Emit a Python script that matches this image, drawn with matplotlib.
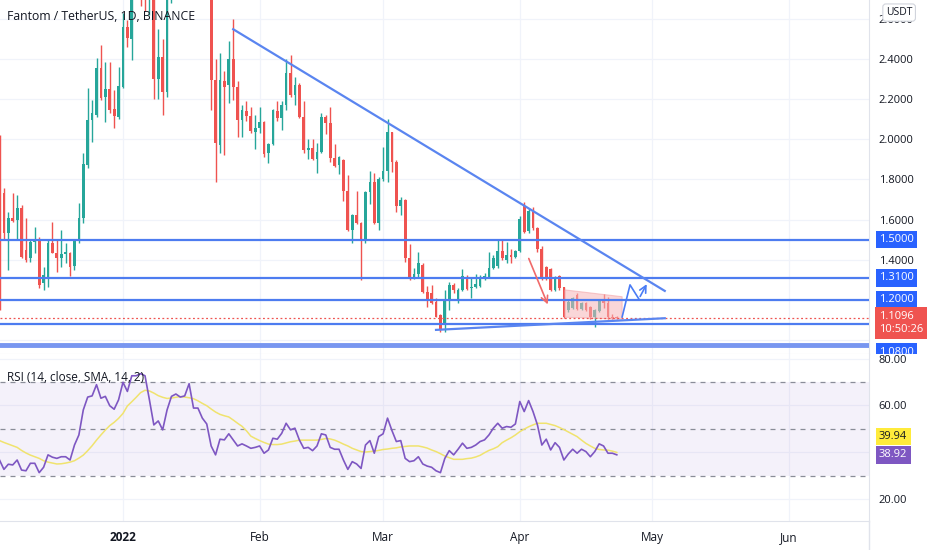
import numpy as np
import pandas as pd
import matplotlib
matplotlib.use("Agg")
import matplotlib.pyplot as plt
import matplotlib.dates as mdates
from matplotlib.lines import Line2D
from matplotlib.patches import Polygon
from matplotlib.transforms import Bbox

plt.rcParams['font.family'] = ['Open Sans', 'DejaVu Sans']

# FTM/USDT daily candles, 2021-12-04 .. 2022-04-23
opens = [2.006, 1.732, 1.533, 1.608, 1.60, 1.657, 1.45, 1.41, 1.49, 1.498,
         1.285, 1.314, 1.483, 1.433, 1.409, 1.428, 1.433, 1.37, 1.498, 1.608,
         1.871, 2.096, 2.12, 2.354, 2.21, 2.25, 2.15, 2.11, 2.26, 2.56,
         2.50, 2.75, 2.90, 2.85, 2.70, 2.78, 2.30, 2.41, 2.235, 2.78,
         2.95, 3.05, 2.98, 3.20, 3.30, 3.15, 3.10, 2.98, 3.02, 2.294,
         1.97, 2.29, 2.27, 2.40, 2.26, 2.095, 2.14, 2.115, 2.035, 2.055,
         2.085, 1.93, 1.975, 2.14, 2.105, 2.17, 2.33, 2.22, 2.27, 2.11,
         1.946, 1.955, 1.90, 1.935, 2.11, 2.08, 1.905, 1.87, 1.895, 1.74,
         1.55, 1.625, 1.585, 1.50, 1.735, 1.785, 1.585, 1.80, 1.84, 2.035,
         1.885, 1.665, 1.695, 1.41, 1.31, 1.33, 1.374, 1.241, 1.235, 1.192,
         1.125, 1.084, 1.204, 1.275, 1.197, 1.25, 1.316, 1.258, 1.263, 1.27,
         1.308, 1.316, 1.36, 1.37, 1.445, 1.40, 1.425, 1.413, 1.442, 1.665,
         1.545, 1.639, 1.557, 1.455, 1.363, 1.353, 1.25, 1.319, 1.263, 1.15,
         1.159, 1.225, 1.154, 1.183, 1.167, 1.114, 1.147, 1.195, 1.183, 1.117,
         1.115]
highs = [2.02, 1.757, 1.638, 1.73, 1.72, 1.673, 1.61, 1.50, 1.563, 1.513,
         1.364, 1.498, 1.588, 1.498, 1.548, 1.483, 1.44, 1.498, 1.683, 1.93,
         2.255, 2.195, 2.404, 2.469, 2.384, 2.384, 2.245, 2.359, 2.628, 2.593,
         2.85, 2.95, 3.00, 2.88, 2.82, 2.80, 2.548, 2.50, 2.85, 3.00,
         3.12, 3.10, 3.25, 3.42, 3.35, 3.25, 3.18, 3.08, 3.05, 2.40,
         2.43, 2.34, 2.49, 2.60, 2.29, 2.17, 2.19, 2.16, 2.12, 2.16,
         2.09, 1.98, 2.15, 2.19, 2.19, 2.40, 2.42, 2.31, 2.28, 2.19,
         2.00, 2.00, 1.98, 2.13, 2.12, 2.16, 1.975, 1.915, 1.90, 1.82,
         1.63, 1.74, 1.59, 1.74, 1.84, 1.83, 1.81, 1.96, 2.10, 2.035,
         1.895, 1.71, 1.70, 1.48, 1.36, 1.44, 1.383, 1.269, 1.275, 1.208,
         1.13, 1.25, 1.287, 1.283, 1.258, 1.353, 1.325, 1.316, 1.33, 1.325,
         1.333, 1.44, 1.425, 1.50, 1.50, 1.487, 1.453, 1.45, 1.617, 1.685,
         1.657, 1.66, 1.565, 1.47, 1.37, 1.36, 1.32, 1.325, 1.265, 1.20,
         1.215, 1.235, 1.19, 1.19, 1.17, 1.155, 1.205, 1.23, 1.215, 1.13,
         1.12]
lows = [1.15, 1.498, 1.35, 1.59, 1.498, 1.41, 1.39, 1.39, 1.434, 1.26,
        1.25, 1.265, 1.433, 1.34, 1.364, 1.384, 1.32, 1.35, 1.483, 1.583,
        1.857, 1.986, 2.11, 2.195, 2.086, 2.13, 2.056, 2.10, 2.255, 2.459,
        2.394, 2.72, 2.665, 2.64, 2.62, 2.20, 2.20, 2.12, 2.21, 2.68,
        2.90, 2.92, 2.95, 3.12, 3.05, 2.98, 2.88, 2.80, 2.145, 1.787,
        1.93, 1.92, 2.18, 2.195, 2.01, 2.01, 2.09, 2.03, 1.95, 2.03,
        1.91, 1.88, 1.97, 2.09, 2.045, 2.145, 2.21, 2.17, 2.105, 1.93,
        1.90, 1.895, 1.83, 1.93, 2.025, 1.885, 1.86, 1.825, 1.69, 1.545,
        1.485, 1.58, 1.30, 1.485, 1.675, 1.58, 1.55, 1.79, 1.785, 1.835,
        1.64, 1.625, 1.39, 1.30, 1.305, 1.31, 1.233, 1.166, 1.179, 1.114,
        1.042, 1.042, 1.148, 1.233, 1.183, 1.242, 1.25, 1.208, 1.258, 1.263,
        1.30, 1.308, 1.353, 1.358, 1.40, 1.383, 1.383, 1.408, 1.437, 1.535,
        1.532, 1.55, 1.44, 1.30, 1.30, 1.245, 1.245, 1.25, 1.11, 1.14,
        1.155, 1.15, 1.15, 1.145, 1.105, 1.067, 1.14, 1.16, 1.105, 1.105,
        1.105]
closes = [1.165, 1.533, 1.608, 1.595, 1.657, 1.414, 1.40, 1.49, 1.50, 1.275,
          1.325, 1.483, 1.433, 1.409, 1.428, 1.438, 1.364, 1.493, 1.608, 1.876,
          2.096, 2.13, 2.354, 2.205, 2.25, 2.145, 2.115, 2.265, 2.56, 2.503,
          2.75, 2.90, 2.85, 2.70, 2.78, 2.30, 2.41, 2.235, 2.78, 2.95,
          3.05, 2.98, 3.20, 3.30, 3.15, 3.10, 2.98, 3.02, 2.294, 1.98,
          2.294, 2.26, 2.40, 2.26, 2.095, 2.145, 2.115, 2.04, 2.055, 2.085,
          1.925, 1.975, 2.145, 2.105, 2.17, 2.33, 2.22, 2.27, 2.11, 1.946,
          1.955, 1.90, 1.935, 2.11, 2.08, 1.905, 1.865, 1.91, 1.74, 1.55,
          1.625, 1.585, 1.50, 1.735, 1.785, 1.585, 1.80, 1.84, 2.035, 1.885,
          1.665, 1.695, 1.41, 1.31, 1.33, 1.385, 1.241, 1.196, 1.186, 1.117,
          1.05, 1.20, 1.275, 1.25, 1.25, 1.32, 1.253, 1.266, 1.28, 1.316,
          1.32, 1.358, 1.41, 1.445, 1.41, 1.425, 1.413, 1.442, 1.603, 1.54,
          1.645, 1.557, 1.452, 1.308, 1.308, 1.25, 1.31, 1.258, 1.117, 1.192,
          1.208, 1.154, 1.187, 1.15, 1.114, 1.150, 1.197, 1.185, 1.117, 1.112,
          1.1096]

rsi = [36.7, 32.7, 34.9, 34.6, 36.7, 32.4, 32.1, 35.3, 35.3, 31.3,
       33.6, 38.9, 37.9, 37.4, 38.1, 38.1, 36.7, 43.1, 47.4, 58.1,
       63.6, 64.1, 68.9, 63.1, 63.9, 59.9, 58.4, 62.4, 69.9, 66.0,
       72.7, 72.7, 73.6, 72.7, 62.4, 51.7, 53.4, 49.6, 58.1, 63.9,
       64.9, 63.6, 64.1, 69.3, 58.9, 58.9, 54.6, 52.1, 42.7, 38.9,
       45.6, 45.3, 47.9, 45.3, 42.7, 43.6, 42.7, 41.7, 42.1, 42.7,
       39.6, 41.0, 46.0, 45.6, 48.1, 52.4, 49.6, 50.3, 45.3, 41.7,
       42.1, 40.7, 42.7, 47.9, 47.4, 42.1, 41.3, 41.3, 36.7, 32.7,
       36.0, 35.0, 33.1, 43.1, 45.0, 39.6, 46.7, 47.9, 54.6, 49.3,
       44.6, 45.0, 37.4, 36.0, 36.4, 38.1, 35.0, 34.1, 33.6, 32.1,
       31.3, 37.4, 40.7, 38.9, 41.3, 43.9, 41.7, 42.1, 43.1, 44.6,
       45.3, 47.4, 50.3, 52.4, 50.3, 51.0, 50.7, 52.1, 61.7, 57.4,
       62.1, 57.4, 51.7, 43.1, 45.6, 41.0, 44.1, 42.1, 36.7, 39.3,
       41.3, 39.6, 41.3, 40.3, 38.1, 40.3, 43.6, 42.7, 39.6, 39.6,
       38.92]
rsi_ma = [45.0, 44.2, 43.5, 42.8, 42.1, 40.8, 39.7, 38.8, 38.1, 37.4,
          36.4, 35.8, 35.4, 35.0, 35.1, 35.4, 35.8, 36.4, 37.5, 38.8,
          40.7, 42.8, 45.2, 47.4, 49.5, 51.4, 52.8, 54.5, 56.6, 59.8,
          61.6, 63.5, 65.5, 66.5, 66.2, 65.3, 64.2, 63.5, 63.0, 63.2,
          63.5, 63.8, 63.6, 63.3, 62.9, 62.0, 60.9, 59.9, 58.5, 57.2,
          56.2, 55.6, 55.1, 53.8, 52.4, 51.1, 49.2, 46.9, 45.9, 45.0,
          44.2, 43.5, 43.3, 43.3, 43.5, 44.0, 44.5, 44.8, 45.2, 45.2,
          45.2, 45.2, 45.2, 45.5, 45.9, 45.7, 45.2, 44.4, 43.5, 42.7,
          41.7, 41.0, 40.3, 40.1, 40.3, 40.5, 40.8, 41.2, 41.4, 41.7,
          41.9, 42.3, 42.5, 42.7, 42.7, 42.7, 42.3, 41.8, 41.0, 40.3,
          39.4, 38.4, 37.7, 37.0, 37.0, 37.0, 37.3, 37.5, 38.0, 38.7,
          39.8, 40.8, 41.5, 42.4, 44.1, 45.2, 46.2, 47.4, 48.8, 49.9,
          50.9, 51.7, 52.4, 52.4, 52.4, 51.9, 51.4, 50.6, 49.7, 48.7,
          47.7, 46.7, 45.2, 43.8, 42.7, 41.7, 41.2, 41.0, 40.9, 40.5,
          39.94]

# horizontal levels drawn on the chart
levels = [1.5, 1.31, 1.2, 1.08]
level_labels = ["1.5000", "1.3100", "1.2000", "1.0800"]
base_level = 0.975
last_price = 1.1096

# trend lines / drawings (date, price)
down_trend = (["2022-01-26 00:00", "2022-05-03 21:00"], [2.547, 1.245])
low_trend = (["2022-03-13 00:00", "2022-05-03 21:00"], [1.051, 1.109])
zigzag = (["2022-04-24 05:00", "2022-04-26 00:00", "2022-04-28 00:00", "2022-04-30 02:00"],
          [1.115, 1.275, 1.205, 1.291])
red_arrow = (["2022-04-02 19:00", "2022-04-07 14:00"], [1.419, 1.165])
flag_box = (["2022-04-11 05:00", "2022-04-24 05:00", "2022-04-24 05:00", "2022-04-11 05:00"],
            [1.25, 1.216, 1.104, 1.114])

month_ticks = ["2022-01-01", "2022-02-01", "2022-03-01", "2022-04-01", "2022-05-01", "2022-06-01"]
month_labels = ["2022", "Feb", "Mar", "Apr", "May", "Jun"]

UP = "#26a69a"
DOWN = "#ef5350"
LINE_BLUE = "#4d7cf0"
GRID = "#f0f3fa"
TXT = "#131722"
BORDER = "#e0e3eb"

dates = pd.date_range("2021-12-04", periods=len(closes), freq="D")
xs = mdates.date2num(dates)
o = np.array(opens); h = np.array(highs); l = np.array(lows); c = np.array(closes)
cols = [UP if cc >= oo else DOWN for oo, cc in zip(o, c)]

def dn(lst):
    return mdates.date2num(pd.to_datetime(lst))

W, H = 932, 550
fig = plt.figure(figsize=(W / 100, H / 100), dpi=100)
fig.patch.set_facecolor("white")
ax1 = fig.add_axes([0, (H - 354) / H, 869 / W, 354 / H])
ax2 = fig.add_axes([0, 29 / H, 869 / W, (521 - 354) / H], sharex=ax1)

xlim = (mdates.date2num(pd.Timestamp("2021-12-04")) + 0.11,
        mdates.date2num(pd.Timestamp("2022-01-01")) + 169.2)

# ---- price pane
for t in dn(month_ticks):
    ax1.axvline(t, color=GRID, lw=0.9, zorder=0)
for p in [1.0, 1.2, 1.4, 1.6, 1.8, 2.0, 2.2, 2.4, 2.6]:
    ax1.axhline(p, color=GRID, lw=0.9, zorder=0)

ax1.vlines(xs, l, h, color=cols, lw=1.0, zorder=2)
ax1.bar(xs, np.maximum(np.abs(c - o), 0.004), bottom=np.minimum(o, c), width=0.62,
        color=cols, zorder=3)

for lv in levels:
    ax1.axhline(lv, color=LINE_BLUE, lw=1.6, zorder=4)
ax1.axhline(base_level, color="#7896f0", lw=3.5, zorder=4)
ax1.axhline(last_price, color=DOWN, lw=0.9, ls=(0, (1.5, 2)), zorder=4)

ax1.plot(dn(down_trend[0]), down_trend[1], color="#5a85f0", lw=1.6, zorder=5)
ax1.plot(dn(low_trend[0]), low_trend[1], color="#5a85f0", lw=1.6, zorder=5)
ax1.plot(dn(zigzag[0][:-1]), zigzag[1][:-1], color="#4a7cf5", lw=1.2, zorder=5)
zx = dn(zigzag[0])
ax1.annotate("", xy=(zx[-1], zigzag[1][-1]), xytext=(zx[-2], zigzag[1][-2]),
             arrowprops=dict(arrowstyle="->", color="#4a7cf5", lw=1.2, mutation_scale=12), zorder=5)
rx = dn(red_arrow[0])
ax1.annotate("", xy=(rx[1], red_arrow[1][1]), xytext=(rx[0], red_arrow[1][0]),
             arrowprops=dict(arrowstyle="->", color="#f06a6a", lw=1.2, mutation_scale=12), zorder=5)
ax1.add_patch(Polygon(np.column_stack([dn(flag_box[0]), flag_box[1]]), closed=True,
                      facecolor="#f7b5b8", alpha=0.55, edgecolor="#f2a0a4", lw=0.8, zorder=3.5))

ax1.set_xlim(*xlim)
ax1.set_ylim(0.931, 2.6925)
ax1.yaxis.tick_right()
ax1.set_yticks([1.4, 1.6, 1.8, 2.0, 2.2, 2.4, 2.6])
ax1.set_yticklabels(["%.4f" % v for v in [1.4, 1.6, 1.8, 2.0, 2.2, 2.4, 2.6]])
ax1.tick_params(axis="y", length=0, pad=7, labelsize=8, labelcolor=TXT)
ax1.tick_params(axis="x", length=0, labelbottom=False)
for s in ["top", "left"]:
    ax1.spines[s].set_visible(False)
for s in ["right", "bottom"]:
    ax1.spines[s].set_color(BORDER)

ax1.text(0.008, 0.952, "Fantom / TetherUS, 1D, BINANCE", transform=ax1.transAxes,
         fontsize=8.8, color=TXT, ha="left", va="center", fontweight="medium")

ytr = ax1.get_yaxis_transform()
clip = Bbox.from_extents(869, H - 354, W, H)
for lv, lab in zip(levels, level_labels):
    yy = lv if lab != "1.0800" else 0.94
    t = ax1.text(1.0115, yy, lab, transform=ytr, ha="left", va="center", fontsize=8,
                 color="white", bbox=dict(boxstyle="square,pad=0.3", fc="#2962ff", ec="none"),
                 zorder=10, clip_on=True)
    t.set_clip_box(clip)
ax1.text(1.0115, 1.087, "%.4f\n10:50:26" % last_price, transform=ytr, ha="left", va="center",
         fontsize=8, color="white", linespacing=1.25,
         bbox=dict(boxstyle="square,pad=0.35", fc="#ef5350", ec="none"), zorder=11)
ax1.text(1.0195, 2.63, "USDT", transform=ytr, ha="left", va="center", fontsize=7.5, color=TXT,
         bbox=dict(boxstyle="round,pad=0.3,rounding_size=0.3", fc="white", ec="#d1d4dc", lw=0.8),
         zorder=11)

# ---- RSI pane
r = np.array(rsi); rm = np.array(rsi_ma)
for t in dn(month_ticks):
    ax2.axvline(t, color=GRID, lw=0.9, zorder=0)
for v in [20, 40, 60, 80]:
    ax2.axhline(v, color=GRID, lw=0.9, zorder=0)
ax2.axhspan(30, 70, color="#7e57c2", alpha=0.08, lw=0, zorder=0.5)
for v in [70, 50, 30]:
    ax2.axhline(v, color="#8a8d98", lw=0.9, ls=(0, (4, 4)), zorder=1)
ax2.plot(xs, rm, color="#f0e36e", lw=1.1, zorder=2)
ax2.plot(xs, r, color="#7e57c2", lw=1.2, zorder=3)
ax2.set_ylim(10.64, 82.0)
ax2.yaxis.tick_right()
ax2.set_yticks([20, 40, 60, 80])
ax2.set_yticklabels(["20.00", "40.00", "60.00", "80.00"])
ax2.tick_params(axis="y", length=0, pad=7, labelsize=8, labelcolor=TXT)
ax2.set_xticks(dn(month_ticks))
ax2.set_xticklabels(month_labels)
ax2.tick_params(axis="x", length=0, pad=7, labelsize=8.5, labelcolor=TXT)
ax2.get_xticklabels()[0].set_fontweight("bold")
for s in ["top", "left"]:
    ax2.spines[s].set_visible(False)
for s in ["right", "bottom"]:
    ax2.spines[s].set_color(BORDER)
ax2.set_xlim(*xlim)

ax2.text(0.008, 0.86, "RSI (14, close, SMA, 14, 2)", transform=ax2.transAxes,
         fontsize=8.5, color=TXT, ha="left", va="center")
ytr2 = ax2.get_yaxis_transform()
ax2.text(1.0115, 46.7, "%.2f" % rsi_ma[-1], transform=ytr2, ha="left", va="center", fontsize=8,
         color=TXT, bbox=dict(boxstyle="square,pad=0.3", fc="#ffeb3b", ec="none"), zorder=10)
ax2.text(1.0115, rsi[-1], "%.2f" % rsi[-1], transform=ytr2, ha="left", va="center", fontsize=8,
         color="white", bbox=dict(boxstyle="square,pad=0.3", fc="#7e57c2", ec="none"), zorder=10)

fig.add_artist(Line2D([869 / W, 869 / W], [0, 29 / H], color=BORDER, lw=1))

fig.savefig("out.png", dpi=100)
